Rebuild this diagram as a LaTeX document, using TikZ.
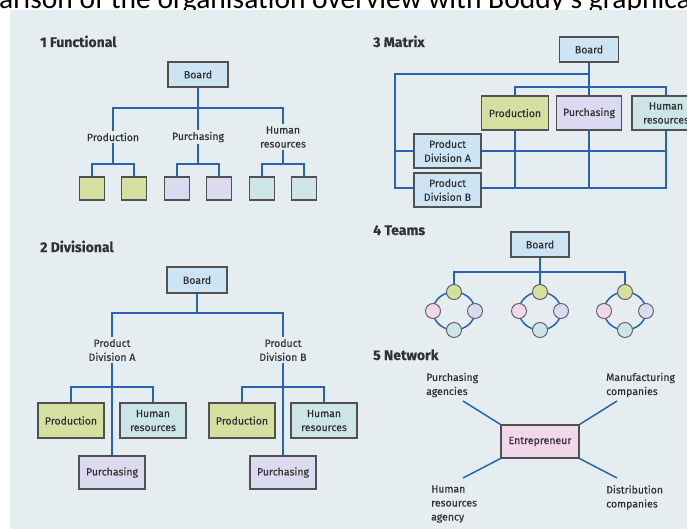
\documentclass[tikz,border=0pt]{standalone}
\usepackage{fontspec}
\setmainfont{Fira Sans}[FakeBold=0.35]
\newfontfamily\capfont{Carlito}

\definecolor{paper}{RGB}{229,237,241}
\definecolor{wire}{RGB}{38,100,178}
\definecolor{inkgray}{RGB}{50,50,50}
\definecolor{boardblue}{RGB}{204,228,244}
\definecolor{prodgreen}{RGB}{213,224,160}
\definecolor{purchlilac}{RGB}{220,218,240}
\definecolor{hrcyan}{RGB}{204,230,232}
\definecolor{entpink}{RGB}{242,214,234}

\pgfdeclarelayer{paperlayer}
\pgfdeclarelayer{wirelayer}
\pgfsetlayers{paperlayer,wirelayer,main}

\begin{document}
\begin{tikzpicture}[x=1pt,y=-1pt,
	font=\fontsize{10.5}{14}\selectfont,
	box/.style={draw=inkgray!85,line width=1.1pt,fill=#1,text=inkgray,align=center,inner sep=0pt},
	lbl/.style={text=inkgray,align=center,inner sep=2pt},
	title/.style={anchor=base west,inner sep=0pt,text=inkgray,font=\fontsize{14}{16}\selectfont\bfseries},
	link/.style={draw=wire,line width=1.5pt},
	dot/.style={circle,draw=inkgray!75,line width=1pt,fill=#1,minimum size=15pt,inner sep=0pt}]
\useasboundingbox (0,0) rectangle (687,529);
\clip (0,0) rectangle (687,529);

% scanned page and the cut caption above it
\begin{pgfonlayer}{paperlayer}
\node[anchor=base west,inner sep=0pt,font=\capfont\fontsize{29.5}{30}\selectfont] (caption) at (-1,9)
	{\llap{Comp}arison of the organisation overview with Boddy's graphical representation};
\fill[paper] (10,10) rectangle (687,529);
\end{pgfonlayer}

% 1 Functional
\node[title] (fTitle) at (40,47) {1 Functional};
\node[box=boardblue,minimum width=60pt,minimum height=25pt] (fBoard) at (198,74.5) {Board};
\coordinate (fJoin) at (198,108);
\foreach \n/\x/\c/\t in {Prod/113/prodgreen/Production,Purch/198/purchlilac/Purchasing,HR/283/hrcyan/{Human\\resources}}{
	\node[lbl] (f\n) at (\x,137) {\t};
	\node[box=\c,minimum width=25pt,minimum height=23pt] (f\n-a) at (\x-21,188.5) {};
	\node[box=\c,minimum width=25pt,minimum height=23pt] (f\n-b) at (\x+21,188.5) {};
	\coordinate (f\n-j) at (\x,164);
	\draw[link] (f\n) -- (f\n-j);
	\draw[link] (f\n-a) |- (f\n-j) -| (f\n-b);
}
\draw[link] (fBoard) -- (fPurch);
\draw[link] (fProd) |- (fJoin) -| (fHR);

% 2 Divisional
\node[title] (dTitle) at (40,252) {2 Divisional};
\node[box=boardblue,minimum width=60pt,minimum height=26pt] (dBoard) at (197,280) {Board};
\coordinate (dJoin) at (197,313);
\node[lbl] (dDivA) at (112,350) {Product\\Division A};
\node[lbl] (dDivB) at (283,350) {Product\\Division B};
\draw[link] (dBoard) -- (dJoin);
\draw[link] (dDivA) |- (dJoin) -| (dDivB);
\foreach \s/\x in {A/112,B/283}{
	\node[box=prodgreen,minimum width=66pt,minimum height=35pt] (dProd\s) at (\x-41,420.5) {Production};
	\node[box=hrcyan,minimum width=66pt,minimum height=35pt] (dHR\s) at (\x+41,420.5) {Human\\resources};
	\node[box=purchlilac,minimum width=66pt,minimum height=33pt] (dPurch\s) at (\x,472.5) {Purchasing};
	\coordinate (dJoin\s) at (\x,387);
	\draw[link] (dDiv\s) -- (dPurch\s);
	\draw[link] (dProd\s) |- (dJoin\s) -| (dHR\s);
}

% 3 Matrix
\node[title] (mTitle) at (373,47) {3 Matrix};
\node[box=boardblue,minimum width=59pt,minimum height=25pt] (mBoard) at (589,49.5) {Board};
\node[box=prodgreen,minimum width=67pt,minimum height=34pt] (mProd) at (515,113) {Production};
\node[box=purchlilac,minimum width=65pt,minimum height=34pt] (mPurch) at (589,113) {Purchasing};
\node[box=hrcyan,minimum width=68pt,minimum height=34pt] (mHR) at (666,113) {Human\\resources};
\node[box=boardblue,minimum width=67pt,minimum height=34pt] (mDivA) at (447.5,151) {Product\\Division A};
\node[box=boardblue,minimum width=67pt,minimum height=34pt] (mDivB) at (447.5,190) {Product\\Division B};
\coordinate (mNW) at (395,74);
\coordinate (mSW) at (395,188);
\coordinate (mArm) at (515,87);
\begin{pgfonlayer}{wirelayer}
\draw[link] (mBoard) -- (mBoard |- mSW);
\draw[link] (mBoard |- mNW) -- (mNW) -- (mSW) -| (mHR.center) |- (mArm) -- (mProd |- mSW);
\draw[link] (mNW |- mDivA) -- (mHR |- mDivA);
\end{pgfonlayer}

% 4 Teams
\node[title] (tTitle) at (373,235) {4 Teams};
\node[box=boardblue,minimum width=58pt,minimum height=25pt] (tBoard) at (540,244.5) {Board};
\coordinate (tJoin) at (540,272);
\foreach \k/\x in {1/454,2/540,3/625}{
	\node[dot=prodgreen] (t\k-n) at (\x,292) {};
	\node[dot=entpink] (t\k-w) at (\x-21,311) {};
	\node[dot=purchlilac] (t\k-e) at (\x+21,311) {};
	\node[dot=hrcyan] (t\k-s) at (\x,330) {};
	\begin{pgfonlayer}{wirelayer}
	\draw[link] (t\k-n.center) to[out=180,in=90] (t\k-w.center) to[out=-90,in=180] (t\k-s.center)
		to[out=0,in=-90] (t\k-e.center) to[out=90,in=0] (t\k-n.center);
	\end{pgfonlayer}
}
\draw[link] (tBoard) -- (t2-n);
\draw[link] (t1-n) |- (tJoin) -| (t3-n);

% 5 Network
\node[title] (nTitle) at (373,360) {5 Network};
\node[box=entpink,minimum width=78pt,minimum height=33pt] (nEnt) at (540,441.5) {Entrepreneur};
\node[lbl,align=left,anchor=west] (nPurch) at (424,385) {Purchasing\\agencies};
\node[lbl,align=left,anchor=west] (nManu) at (604,385) {Manufacturing\\companies};
\node[lbl,align=left,anchor=west] (nHR) at (429,504) {Human\\resources\\agency};
\node[lbl,align=left,anchor=west] (nDist) at (604,497.5) {Distribution\\companies};
\coordinate (nPurch-end) at (463,401);
\coordinate (nManu-end) at (617,401);
\coordinate (nHR-end) at (463,478);
\coordinate (nDist-end) at (617,478);
\draw[link] (nEnt.north west) -- (nPurch-end);
\draw[link] (nEnt.north east) -- (nManu-end);
\draw[link] (nEnt.south west) -- (nHR-end);
\draw[link] (nEnt.south east) -- (nDist-end);
\end{tikzpicture}
\end{document}
